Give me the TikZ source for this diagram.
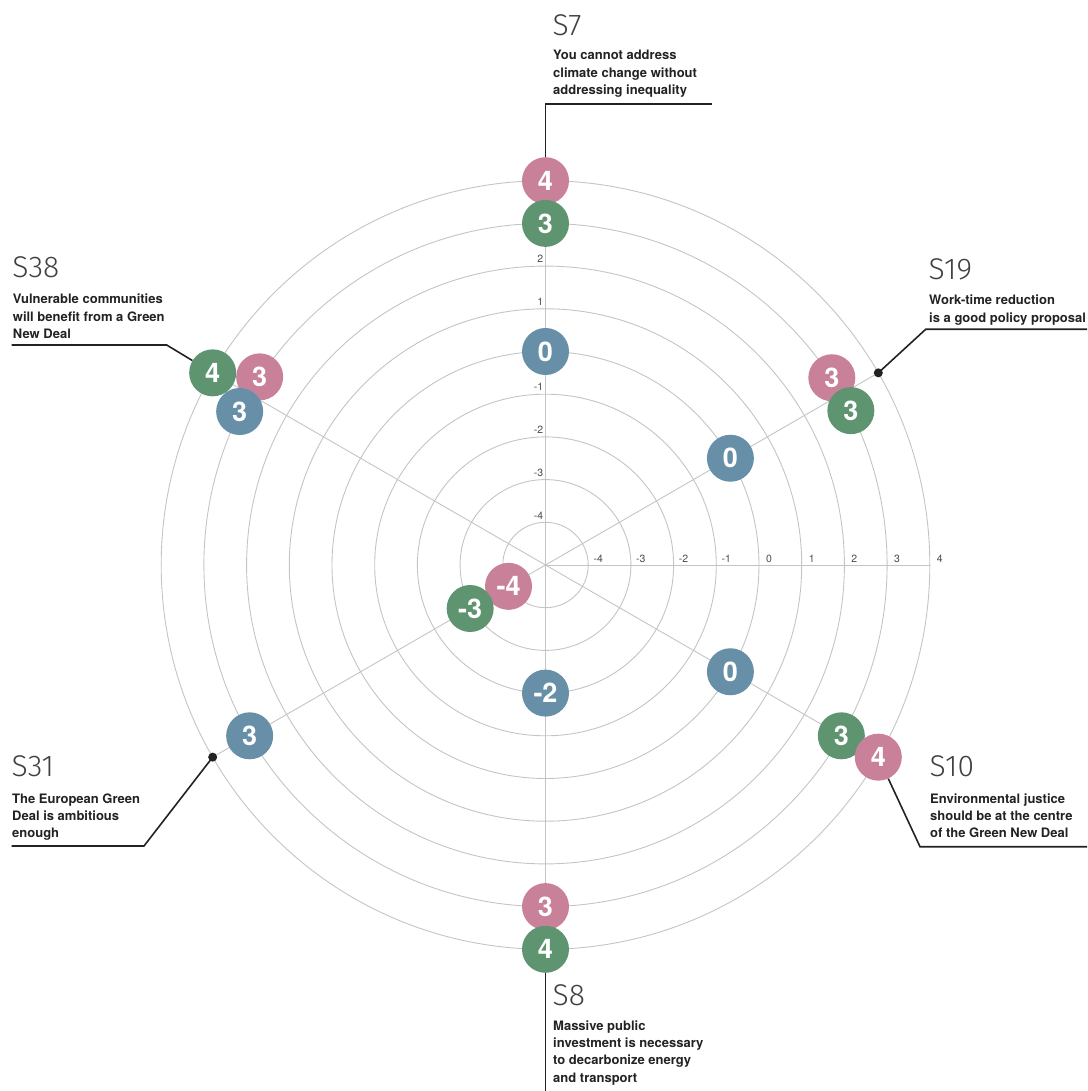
\documentclass[tikz,border=0pt]{standalone}
\usepackage{fontspec}
\setmainfont{TeX Gyre Heros}
\newfontfamily\thinfont{Fira Sans Light}
\usetikzlibrary{calc}
\definecolor{rosec}{HTML}{C98199}
\definecolor{sagec}{HTML}{5E9570}
\definecolor{steelc}{HTML}{6790A8}
\definecolor{ringc}{HTML}{C4C4C4}
\definecolor{leadc}{HTML}{222222}
\begin{document}
\begin{tikzpicture}[x=1pt, y=1pt,
    ring/.style={draw=ringc, line width=0.9pt},
    bub/.style={circle, minimum size=47pt, inner sep=0pt, text=white, font=\bfseries\fontsize{27}{27}\selectfont},
    rose/.style={bub, fill=rosec},
    sage/.style={bub, fill=sagec},
    steel/.style={bub, fill=steelc},
    lead/.style={draw=leadc, line width=1.6pt},
    tick/.style={text=black!70, inner sep=0pt, font=\fontsize{10.5}{10.5}\selectfont},
    stitle/.style={anchor=base west, inner sep=0pt, text=black!75, font=\thinfont\fontsize{30}{30}\selectfont},
    sdesc/.style={anchor=base west, inner sep=0pt, align=left, text=leadc, font=\bfseries\fontsize{13}{17.4}\selectfont}]
        \useasboundingbox (-545.5,-526) rectangle (541.5,565);
        % rings and spokes
        \foreach \k in {1,...,9} \draw[ring] (0,0) circle (\k*42.7);
        \draw[ring] (90:384.3) -- (-90:384.3);
        \draw[ring] (30:384.3) -- (210:384.3);
        \draw[ring] (150:384.3) -- (-30:384.3);
        \draw[ring] (0,0) -- (0:384.3);
        % scale
        \foreach \v [count=\k] in {-4,...,4}
            \node[tick] (h\k) at (\k*42.7+10, 6) {\v};
        \foreach \k/\v in {1/-4,2/-3,3/-2,4/-1,6/1,7/2}
            \node[tick, anchor=east] (u\k) at (-2, \k*42.7+7) {\v};
        % S7
        \node[rose] (s7p) at (90:384.3) {4};
        \node[sage] (s7g) at (90:341.6) {3};
        \node[steel] (s7b) at (90:213.5) {0};
        % S19
        \node[rose] (s19p) at ($(30:341.6)+(120:19)$) {3};
        \node[sage] (s19g) at ($(30:341.6)+(-60:19)$) {3};
        \node[steel] (s19b) at (30:213.5) {0};
        % S10
        \node[steel] (s10b) at (-30:213.5) {0};
        \node[sage] (s10g) at (-30:341.6) {3};
        \node[rose] (s10p) at (-30:384.3) {4};
        % S8
        \node[rose] (s8p) at (-90:341.6) {3};
        \node[sage] (s8g) at (-90:384.3) {4};
        \node[steel] (s8b) at (-90:128.1) {-2};
        % S31
        \node[rose] (s31p) at (210:42.7) {-4};
        \node[sage] (s31g) at (210:87) {-3};
        \node[steel] (s31b) at (210:341.6) {3};
        % S38
        \node[rose] (s38p) at ($(150:341.6)+(60:20)$) {3};
        \node[sage] (s38g) at (150:384.3) {4};
        \node[steel] (s38b) at ($(150:341.6)+(240:20)$) {3};
        % leaders
        \coordinate (s7k) at (0,461);
        \coordinate (s7e) at (166.5,461);
        \coordinate (s19d) at (30:384.3);
        \coordinate (s19k) at (380.2,235.7);
        \coordinate (s19e) at (541.5,235.7);
        \coordinate (s10k) at (374.5,-281.7);
        \coordinate (s10e) at (541.5,-281.7);
        \coordinate (s8e) at (0,-526);
        \coordinate (s31d) at (210:384.3);
        \coordinate (s31k) at (-401.5,-281);
        \coordinate (s31e) at (-533.8,-281);
        \coordinate (s38k) at (-378.8,220);
        \coordinate (s38e) at (-533.8,220);
        \draw[lead] (s7p) -- (s7k) -- (s7e);
        \draw[lead] (s19d) -- (s19k) -- (s19e);
        \draw[lead] (s10p) -- (s10k) -- (s10e);
        \draw[lead] (s8g) -- (s8e);
        \draw[lead] (s31d) -- (s31k) -- (s31e);
        \draw[lead] (s38g) -- (s38k) -- (s38e);
        \fill[leadc] (s19d) circle (4.5);
        \fill[leadc] (s31d) circle (4.5);
        % statements
        \node[stitle] (s7t) at (7,529) {S7};
        \node[sdesc] (s7x) at (7.5,470.2) {You cannot address\\climate change without\\addressing inequality};
        \node[stitle] (s19t) at (383,285) {S19};
        \node[sdesc] (s19x) at (383.5,242.6) {Work-time reduction\\is a good policy proposal};
        \node[stitle] (s38t) at (-533.3,287) {S38};
        \node[sdesc] (s38x) at (-532.8,226.2) {Vulnerable communities\\will benefit from a Green\\New Deal};
        \node[stitle] (s31t) at (-534,-211) {S31};
        \node[sdesc] (s31x) at (-533.5,-272.8) {The European Green\\Deal is ambitious\\enough};
        \node[stitle] (s10t) at (384,-211.7) {S10};
        \node[sdesc] (s10x) at (384.5,-272.8) {Environmental justice\\should be at the centre\\of the Green New Deal};
        \node[stitle] (s8t) at (7,-440) {S8};
        \node[sdesc] (s8x) at (7.5,-517.2) {Massive public\\investment is necessary\\to decarbonize energy\\and transport};
\end{tikzpicture}
\end{document}
